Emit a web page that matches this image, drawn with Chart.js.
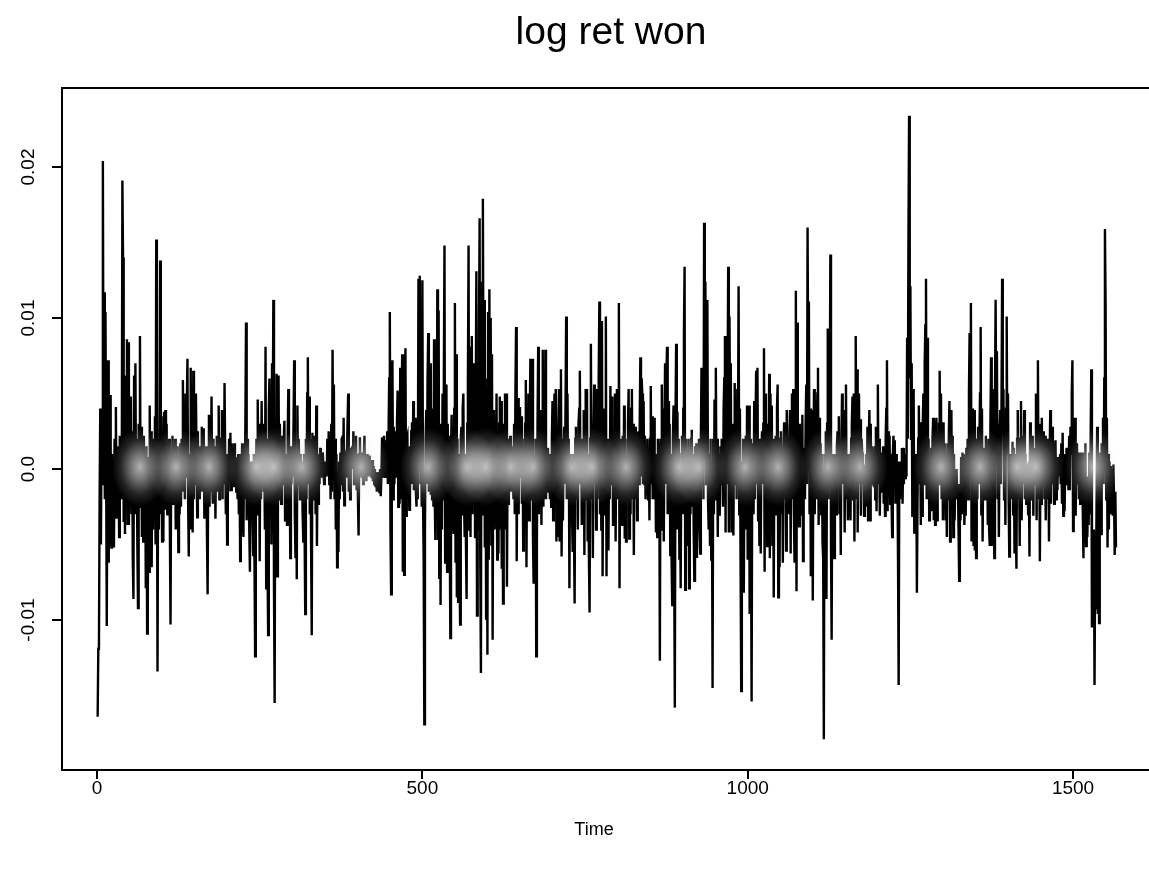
<!DOCTYPE html>
<html>
<head>
<meta charset="utf-8">
<title>log ret won</title>
<script src="https://cdn.jsdelivr.net/npm/chart.js@4.4.1/dist/chart.umd.min.js"></script>
<style>
  html, body { margin: 0; padding: 0; background: #fff; overflow: hidden; }
  #wrap { position: relative; width: 1222px; height: 869px; }
</style>
</head>
<body>
<div id="wrap"><canvas id="chart-logret" width="1222" height="869"></canvas></div>
<script>
const chartTitle = 'log ret won';
const xAxisTitle = 'Time';
const xTicks = [0, 500, 1000, 1500];
const yTicks = [-0.01, 0, 0.01, 0.02];
const yTickLabels = ['-0.01', '0.0', '0.01', '0.02'];

// daily log returns, in units of 0.0001 (t = 1 .. 1566)
const logRetE4 = [
  -164,-119,-115,-20,40,-50,30,-10,204,30,117,-20,104,10,-104,20,72,-62,15,49,
  -30,-52,10,-40,0,-52,20,-10,41,-33,10,-21,15,-45,22,-15,5,-20,191,140,
  -35,60,-43,62,-20,86,-37,84,-37,30,-20,48,-30,25,-60,-86,62,-30,70,-20,
  20,-50,-92,30,-25,88,-20,28,-45,20,-48,22,-35,10,-79,15,-109,-97,8,-68,
  42,-30,25,-65,10,-40,20,-20,35,-50,152,40,-134,20,-40,30,138,-30,35,-48,
  25,-48,38,-20,39,-27,30,-30,15,-30,20,-40,-103,10,-20,22,-23,8,-10,
  // 120
  20,-40,10,-30,15,-55,5,-30,17,-25,20,
  -10,59,-15,30,-20,50,-5,40,73,-20,-58,10,-30,67,-40,25,-42,65,-20,30,
  -10,50,10,-32,25,-20,10,-20,15,-10,28,-15,20,27,-33,10,-20,15,-45,-83,
  10,36,-25,20,-15,48,-10,-23,20,-10,15,-33,10,22,-15,20,42,-20,10,-15,
  20,39,-20,30,-10,57,10,-30,5,-50,10,-15,20,-5,24,-14,17,-10,12,-12,
  17,-12,8,-15,5,-20,10,-30,5,-61,10,-20,17,-30,-45,10,-20,30,97,-34,
  20,-23,10,-40,-68,5,-20,5,-30,-57,10,-60,-124,-12,20,-30,46,-10,30,-61,
  // 251
  20,-20,45,-10,30,-15,10,-40,81,-79,20,-60,-110,40,60,-30,50,-50,70,20,
  112,-80,-155,30,-60,63,-71,20,62,-20,30,-10,-23,15,22,-10,20,32,-34,10,
  -20,-37,20,53,-20,10,-59,15,-10,14,-5,30,72,-30,-59,10,-73,42,-10,20,
  0,-20,10,-20,5,-30,-48,10,-40,-96,20,-20,50,74,-10,48,-30,20,-50,-110,
  24,-20,22,-10,15,-30,42,-51,10,-23,5,-10,14,-5,11,-5,11,0,-10,5,
  -3,0,-5,20,5,25,-10,15,-20,30,-15,79,10,56,-20,20,-40,10,-65,-20,
  -55,5,-20,11,-10,20,21,-15,34,-24,10,8,-5,10,
  // 385
  30,50,-15,10,-20,14,
  5,15,0,25,-10,15,-10,22,-14,10,-20,-44,10,21,-5,11,-6,5,-10,8,
  22,-5,8,-8,10,-3,6,-5,9,-4,3,-6,6,-8,2,-10,0,-12,-4,-15,
  -2,-10,-5,-16,0,-18,-6,20,21,-5,22,-6,19,-6,10,25,-10,20,60,104,
  -40,-83,30,72,-20,28,-10,25,20,-5,30,52,-25,20,-23,67,-20,40,76,-68,
  76,-70,30,80,-31,20,22,-10,1,-27,15,-10,25,31,-10,45,-14,30,34,-15,
  -25,10,-20,126,50,128,-10,20,-25,125,-20,-60,-169,-40,20,39,-10,60,90,-15,
  50,70,-17,30,-20,40,-25,
  // 518
  86,-20,-47,
  30,-30,119,-47,105,-72,20,-90,30,-40,50,-20,60,148,-62,20,56,-68,30,-30,
  22,-34,-112,10,36,-40,20,-43,40,110,-62,76,-85,20,-88,10,-60,-103,20,28,
  -30,40,50,-20,-45,10,-50,-86,30,60,148,-40,81,-45,60,88,-30,70,-20,64,
  -45,40,131,-97,53,-40,90,166,-60,-135,124,-30,179,40,112,-52,60,-99,40,-123,
  104,-60,119,-40,100,-50,76,-113,20,39,-40,20,-30,50,-60,10,-56,30,48,-40,
  45,-66,20,-89,30,-20,50,-40,50,-78,10,-23,20,-10,22,-15,15,-10,3,-20,
  30,-30,50,94,-61,20,47,-30,40,
  // 650
  41,-6,35,-23,20,-54,10,-40,30,59,-65,
  20,-30,50,-34,30,73,-20,30,73,-45,-76,10,-60,20,-124,-50,30,81,-30,36,
  -20,39,-37,30,79,-25,50,-20,79,-20,10,-15,14,-10,10,-20,5,-25,20,45,
  -34,20,50,-20,53,-48,20,-45,30,53,-48,30,66,-58,20,-34,10,28,-10,40,
  101,-20,50,-10,20,-79,10,-20,6,-30,-55,10,-40,-89,20,28,-20,22,-40,30,
  40,65,-10,20,-37,10,-20,39,-57,30,53,-20,53,-48,10,-60,-95,20,83,-20,
  30,-59,20,56,-10,30,-40,53,-20,30,60,111,-30,79,-40,98,-71,20,-23,40,
  -30,
  // 782
  101,-71,20,-40,-54,20,-20,55,-10,
  30,48,-37,20,-30,50,-48,20,53,-20,30,110,-79,20,-25,10,-37,22,-30,42,
  -46,20,-48,10,-20,30,53,-46,20,-30,40,53,-20,30,-57,10,28,-20,22,-34,
  20,25,-10,30,74,-5,60,50,-10,45,-10,22,-20,10,-10,20,-20,10,-34,20,
  55,-10,35,-20,30,34,-20,10,-42,10,-45,20,-10,17,-127,20,-40,56,-10,40,
  -48,20,70,-10,60,81,-30,45,-20,30,-57,10,-60,-90,20,42,-60,-158,30,83,
  -40,38,-30,20,-60,-20,-79,10,22,-30,40,90,134,-80,20,-40,8,-51,20,-79,
  10,-30,20,
  // 914
  26,-25,10,-40,-74,15,-30,
  17,-59,10,-37,20,-40,-56,20,67,-10,50,-20,163,40,124,-10,60,112,-20,-40,
  10,-51,20,-60,-10,-145,20,-30,46,-20,67,-10,20,-45,10,-20,-31,15,-10,20,
  17,-25,40,60,88,-42,88,-10,50,134,-42,101,20,70,-42,30,-30,-44,20,57,
  -10,40,-20,53,20,121,-30,40,-60,-147,5,-40,20,-82,10,-20,22,-40,42,-60,
  30,42,-96,20,-40,-154,10,17,-30,45,-20,30,65,-10,67,-34,10,-51,20,-56,
  10,25,-10,30,80,-68,50,-20,30,-51,20,-20,63,-59,50,-20,42,-51,20,-85,
  10,-20,22,-30,40,
  // 1046
  56,-85,10,-65,20,
  25,-30,10,-62,15,31,-20,20,-54,39,-10,17,-30,20,39,-56,30,50,-20,53,
  -30,-62,30,118,-81,97,-20,20,-38,30,-31,10,-30,36,-61,10,14,-20,30,56,
  -10,160,60,111,-30,40,-71,20,39,-87,20,53,-30,30,45,-20,50,67,-37,34,
  -20,17,-30,10,-48,-60,-179,10,-40,25,-86,30,93,-20,84,30,142,-50,-113,10,
  -20,3,-59,10,-20,-30,15,25,-10,35,-30,10,-57,20,50,-10,30,39,-42,30,
  56,-20,3,-34,10,-30,10,-34,20,30,48,-20,50,-48,40,88,-20,66,-42,30,
  50,-10,33,-31,20,11,-10,
  // 1178
  3,-31,0,
  -23,10,-25,28,-34,20,39,-34,30,-10,15,-10,11,-12,15,-20,28,-28,20,56,
  -10,20,-31,10,-15,11,-10,15,-23,5,-31,20,40,72,-28,25,-10,22,-23,10,
  -20,-45,10,22,-10,19,-23,10,-17,5,-60,-143,5,-20,3,-15,14,-23,14,-10,
  8,-6,10,-5,87,20,150,234,60,121,20,70,-31,30,53,-42,-20,-39,10,-82,
  -20,20,42,-10,31,-37,20,-31,30,50,-10,70,95,126,-20,87,-10,20,-34,10,
  -20,14,-28,20,34,-34,10,-37,20,34,-34,20,-10,30,65,-10,50,-20,20,-34,
  31,-20,17,-34,10,-45,17,-20,20,
  // 1310
  45,
  -48,20,39,-20,22,-45,10,-34,-3,-20,0,-17,-10,-40,-74,-10,-34,8,-30,11,
  -20,10,-37,5,-31,14,-10,20,-20,50,90,30,110,-48,30,40,-51,39,-54,10,
  -59,20,-20,28,-10,19,50,94,-30,40,-48,10,-20,14,-20,22,-10,10,-37,20,
  -40,-51,30,74,-51,30,53,-20,-59,50,112,20,78,-20,30,-45,20,39,-10,40,
  126,30,53,-20,30,-37,40,101,10,50,-20,-58,10,-20,3,-10,18,-30,14,-56,
  10,-40,-66,20,39,-20,10,-51,20,45,-34,10,22,-10,39,-20,10,-23,3,-10,
  -30,5,-58,31,-10,20,-20,22,-31,10,14,-10,
  // 1443
  50,-34,30,72,-20,30,-61,10,
  -23,34,-10,20,25,-20,22,-34,10,20,-20,10,-48,10,39,-23,20,28,-10,15,
  -23,10,19,-20,5,-14,8,5,-5,10,-10,17,-23,24,-31,10,-28,5,-10,14,
  -10,8,-14,22,-14,28,10,50,72,-41,30,-10,34,-31,10,17,-10,11,-20,11,
  -23,11,-15,11,-30,-59,0,-40,17,-51,-10,-45,-5,-37,11,-30,20,66,-105,-60,
  -99,-40,-143,-60,-93,-30,28,-96,-50,-102,-10,11,-43,17,0,34,-10,60,159,110,
  -20,34,-52,10,-40,5,-20,2,-30,0,-31,3,-20,-57,-15,-52
];

const logRet = logRetE4.map(v => v / 10000);
const series = logRet.map((v, i) => ({ x: i + 1, y: v }));

// pale haze that lies over the zero band in the scanned picture (pixel x)
const glowX = [140, 176, 209, 256, 274, 302, 361, 428, 467, 486, 511, 533, 572, 592,
  626, 679, 699, 745, 778, 828, 860, 941, 980, 1017, 1036, 1093];

const FONT = "'Liberation Sans', Arial, Helvetica, sans-serif";

const glowPlugin = {
  id: 'glow',
  afterDatasetsDraw(chart) {
    const { ctx, chartArea: a, scales } = chart;
    const y0 = scales.y.getPixelForValue(0);
    ctx.save();
    ctx.beginPath();
    ctx.rect(a.left, a.top, a.right - a.left, a.bottom - a.top);
    ctx.clip();
    glowX.forEach(gx => {
      ctx.save();
      ctx.translate(gx, y0 - 2);
      ctx.scale(1, 1.4);
      const g = ctx.createRadialGradient(0, 0, 0, 0, 0, 28);
      g.addColorStop(0, 'rgba(255,255,255,0.7)');
      g.addColorStop(0.35, 'rgba(245,245,245,0.45)');
      g.addColorStop(0.7, 'rgba(240,240,240,0.15)');
      g.addColorStop(1, 'rgba(255,255,255,0)');
      ctx.fillStyle = g;
      ctx.beginPath();
      ctx.arc(0, 0, 28, 0, Math.PI * 2);
      ctx.fill();
      ctx.restore();
    });
    ctx.restore();
  }
};

// box around the plot, rotated y labels and the x axis title, R style
const rStylePlugin = {
  id: 'rStyle',
  afterDraw(chart) {
    const { ctx, chartArea: a, scales } = chart;
    ctx.save();
    ctx.strokeStyle = '#000';
    ctx.lineWidth = 2;
    ctx.strokeRect(a.left, a.top, a.right - a.left, a.bottom - a.top);

    ctx.fillStyle = '#000';
    ctx.font = '19px ' + FONT;
    ctx.textAlign = 'center';
    ctx.textBaseline = 'middle';
    yTicks.forEach((v, k) => {
      const py = scales.y.getPixelForValue(v);
      ctx.save();
      ctx.translate(29, py);
      ctx.rotate(-Math.PI / 2);
      ctx.fillText(yTickLabels[k], 0, 0);
      ctx.restore();
    });

    ctx.font = '18px ' + FONT;
    ctx.fillText(xAxisTitle, 594, 830);
    ctx.restore();
  }
};

new Chart(document.getElementById('chart-logret').getContext('2d'), {
  type: 'line',
  data: {
    datasets: [{
      data: series,
      borderColor: '#000',
      borderWidth: 2.4,
      pointRadius: 0,
      tension: 0,
      fill: false
    }]
  },
  options: {
    responsive: false,
    animation: false,
    events: [],
    layout: { padding: 0 },
    plugins: {
      legend: { display: false },
      tooltip: { enabled: false },
      title: {
        display: true,
        text: chartTitle,
        color: '#000',
        font: { family: FONT, size: 39, weight: 'normal' },
        padding: { top: 10, bottom: 31.2 }
      }
    },
    scales: {
      x: {
        type: 'linear',
        min: -53.8,
        max: 1728.9,
        afterBuildTicks: s => { s.ticks = xTicks.map(v => ({ value: v })); },
        afterFit: s => { s.height = 99; },
        ticks: {
          color: '#000',
          font: { family: FONT, size: 19 },
          padding: -2,
          maxRotation: 0,
          autoSkip: false,
          callback: v => String(v)
        },
        grid: { drawOnChartArea: false, drawTicks: true, tickLength: 9, color: '#000', lineWidth: 2 },
        border: { display: true, color: '#000', width: 2 }
      },
      y: {
        type: 'linear',
        min: -0.01993,
        max: 0.02523,
        afterBuildTicks: s => { s.ticks = yTicks.map(v => ({ value: v })); },
        afterFit: s => { s.width = 62; },
        ticks: { display: false },
        grid: { drawOnChartArea: false, drawTicks: true, tickLength: 10, color: '#000', lineWidth: 2 },
        border: { display: true, color: '#000', width: 2 }
      }
    }
  },
  plugins: [glowPlugin, rStylePlugin]
});
</script>
</body>
</html>
